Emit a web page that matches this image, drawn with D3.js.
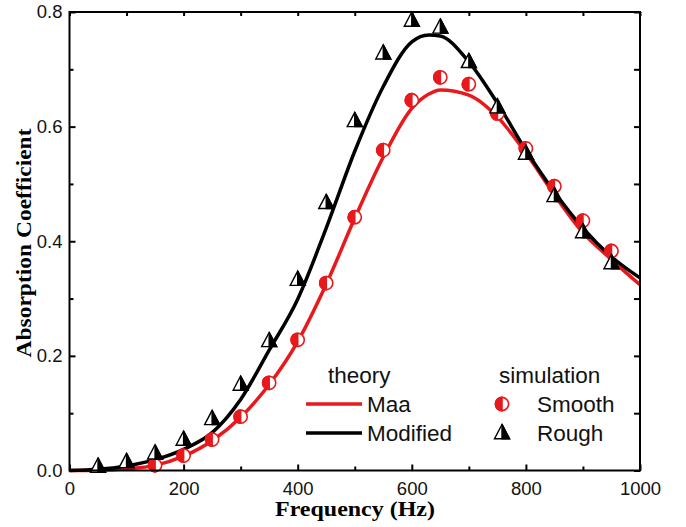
<!DOCTYPE html>
<html>
<head>
<meta charset="utf-8">
<script src="https://cdn.jsdelivr.net/npm/d3@7"></script>
<style>
  html, body { margin: 0; padding: 0; background: #fff; }
  svg { display: block; }
</style>
</head>
<body>
<svg id="chart" width="686" height="527"></svg>
<script>
// Theory curves (absorption coefficient vs frequency)
const theoryFreq   = [0, 50, 100, 150, 200, 250, 300, 350, 400, 450, 500, 550, 600, 630, 650, 700, 750, 800, 850, 900, 950, 1000];
const maaTheory    = [0, 0.0005, 0.003, 0.009, 0.025, 0.052, 0.093, 0.150, 0.225, 0.325, 0.440, 0.547, 0.632, 0.657, 0.664, 0.655, 0.617, 0.554, 0.481, 0.415, 0.368, 0.324];
const modTheory    = [0, 0.002, 0.008, 0.019, 0.037, 0.066, 0.124, 0.210, 0.299, 0.423, 0.557, 0.670, 0.748, 0.760, 0.758, 0.713, 0.641, 0.559, 0.486, 0.423, 0.373, 0.336];

// Simulation results
const smoothFreq   = [150, 200, 250, 300, 350, 400, 450, 500, 550, 600, 650, 700, 750, 800, 850, 900, 950];
const smoothSim    = [0.009, 0.026, 0.054, 0.094, 0.153, 0.228, 0.327, 0.442, 0.559, 0.646, 0.686, 0.674, 0.623, 0.562, 0.496, 0.436, 0.383];
const roughFreq    = [50, 100, 150, 200, 250, 300, 350, 400, 450, 500, 550, 600, 650, 700, 750, 800, 850, 900, 950];
const roughSim     = [0.007, 0.015, 0.030, 0.054, 0.090, 0.150, 0.226, 0.333, 0.467, 0.610, 0.728, 0.785, 0.773, 0.713, 0.634, 0.553, 0.479, 0.416, 0.362];

// Axis ticks
const xTicks       = [0, 200, 400, 600, 800, 1000];
const xMinorTicks  = [100, 300, 500, 700, 900];
const yTicks       = [0.0, 0.2, 0.4, 0.6, 0.8];
const yMinorTicks  = [0.1, 0.3, 0.5, 0.7];

const xTitle = "Frequency (Hz)";
const yTitle = "Absorption Coefficient";

const svg = d3.select("#chart");
const plotLeft = 69.5, plotRight = 640, plotTop = 12, plotBottom = 470.5;

const x = d3.scaleLinear().domain([0, 1000]).range([plotLeft, plotRight]);
const y = d3.scaleLinear().domain([0, 0.8]).range([plotBottom, plotTop]);

const tickFont = "'Liberation Sans', Arial, sans-serif";
const titleFont = "'Liberation Serif', 'Times New Roman', serif";

// Frame ticks (inward on all four sides)
function tickAxes(g, axis) { g.call(axis).call(s => s.select(".domain").remove()); }

const majorLen = 6, minorLen = 4;
svg.append("g").attr("transform", `translate(0,${plotBottom})`)
  .call(g => tickAxes(g, d3.axisBottom(x).tickValues(xTicks).tickSizeInner(-majorLen).tickSizeOuter(0).tickPadding(11).tickFormat(d3.format("d"))));
svg.append("g").attr("transform", `translate(0,${plotBottom})`)
  .call(g => tickAxes(g, d3.axisBottom(x).tickValues(xMinorTicks).tickSizeInner(-minorLen).tickSizeOuter(0).tickFormat("")));
svg.append("g").attr("transform", `translate(0,${plotTop})`)
  .call(g => tickAxes(g, d3.axisTop(x).tickValues(xTicks.concat(xMinorTicks)).tickSizeInner(-minorLen).tickSizeOuter(0).tickFormat("")));
svg.append("g").attr("transform", `translate(${plotLeft},0)`)
  .call(g => tickAxes(g, d3.axisLeft(y).tickValues(yTicks).tickSizeInner(-majorLen).tickSizeOuter(0).tickPadding(7).tickFormat(d3.format(".1f"))));
svg.append("g").attr("transform", `translate(${plotLeft},0)`)
  .call(g => tickAxes(g, d3.axisLeft(y).tickValues(yMinorTicks).tickSizeInner(-minorLen).tickSizeOuter(0).tickFormat("")));
svg.append("g").attr("transform", `translate(${plotRight},0)`)
  .call(g => tickAxes(g, d3.axisRight(y).tickValues(yTicks.concat(yMinorTicks)).tickSizeInner(-majorLen).tickSizeOuter(0).tickFormat("")));

svg.selectAll(".tick line").attr("stroke", "#000").attr("stroke-width", 2);
svg.selectAll(".tick text").attr("font-family", tickFont).attr("font-size", 18.5).attr("fill", "#111");

// Theory curves
const line = d3.line().curve(d3.curveMonotoneX);
const red = "#e8191c";
const curves = [
  { name: "Maa", values: maaTheory, color: red },
  { name: "Modified", values: modTheory, color: "#000" }
];
const plot = svg.append("g");
curves.forEach(c => {
  plot.append("path")
    .attr("d", line(theoryFreq.map((f, i) => [x(f), y(c.values[i])])))
    .attr("fill", "none").attr("stroke", c.color).attr("stroke-width", 3.5)
    .attr("stroke-linejoin", "round");
});

// Half-filled marker builders
function smoothMarker(g, cx, cy, r) {
  g.append("circle").attr("cx", cx).attr("cy", cy).attr("r", r).attr("fill", "#fff").attr("stroke", red).attr("stroke-width", 1.6);
  g.append("path")
    .attr("d", `M${cx},${cy - r} A${r},${r} 0 0 0 ${cx},${cy + r} Z`)
    .attr("fill", red).attr("stroke", red).attr("stroke-width", 1.6);
}
function roughMarker(g, cx, cy, s) {
  const h = s * 0.95;
  const apexY = cy - h * 0.6, baseY = cy + h * 0.4;
  g.append("path")
    .attr("d", `M${cx},${apexY} L${cx + s / 2},${baseY} L${cx - s / 2},${baseY} Z`)
    .attr("fill", "#fff").attr("stroke", "#000").attr("stroke-width", 1.4).attr("stroke-linejoin", "miter");
  g.append("path")
    .attr("d", `M${cx},${apexY} L${cx + s / 2},${baseY} L${cx},${baseY} Z`)
    .attr("fill", "#000").attr("stroke", "#000").attr("stroke-width", 1.4);
}

const markers = svg.append("g");
smoothFreq.forEach((f, i) => smoothMarker(markers, x(f), y(smoothSim[i]), 6.6));
roughFreq.forEach((f, i) => roughMarker(markers, x(f), y(roughSim[i]), 15));

// Frame
svg.append("rect")
  .attr("x", plotLeft).attr("y", plotTop).attr("width", plotRight - plotLeft).attr("height", plotBottom - plotTop)
  .attr("fill", "none").attr("stroke", "#000").attr("stroke-width", 2);

// Axis titles
svg.append("text")
  .attr("x", 355).attr("y", 516).attr("text-anchor", "middle")
  .attr("font-family", titleFont).attr("font-weight", "bold").attr("font-size", 21)
  .attr("textLength", 160).attr("lengthAdjust", "spacingAndGlyphs")
  .text(xTitle);
svg.append("text")
  .attr("transform", "translate(31,243) rotate(-90)").attr("text-anchor", "middle")
  .attr("font-family", titleFont).attr("font-weight", "bold").attr("font-size", 21)
  .attr("textLength", 229).attr("lengthAdjust", "spacingAndGlyphs")
  .text(yTitle);

// Legend
const legend = svg.append("g").attr("font-family", tickFont).attr("font-size", 22.5).attr("fill", "#111");
legend.append("text").attr("x", 328).attr("y", 383).text("theory");
legend.append("text").attr("x", 499).attr("y", 383).text("simulation");
const theoryRows = [{ label: "Maa", color: red, y: 404 }, { label: "Modified", color: "#000", y: 433 }];
theoryRows.forEach(r => {
  legend.append("line").attr("x1", 306).attr("x2", 362).attr("y1", r.y).attr("y2", r.y)
    .attr("stroke", r.color).attr("stroke-width", 3.5);
  legend.append("text").attr("x", 367).attr("y", r.y + 8).text(r.label);
});
smoothMarker(legend, 502, 404, 6.6);
legend.append("text").attr("x", 537).attr("y", 412).text("Smooth");
roughMarker(legend, 502, 433, 15);
legend.append("text").attr("x", 537).attr("y", 441).text("Rough");
</script>
</body>
</html>
